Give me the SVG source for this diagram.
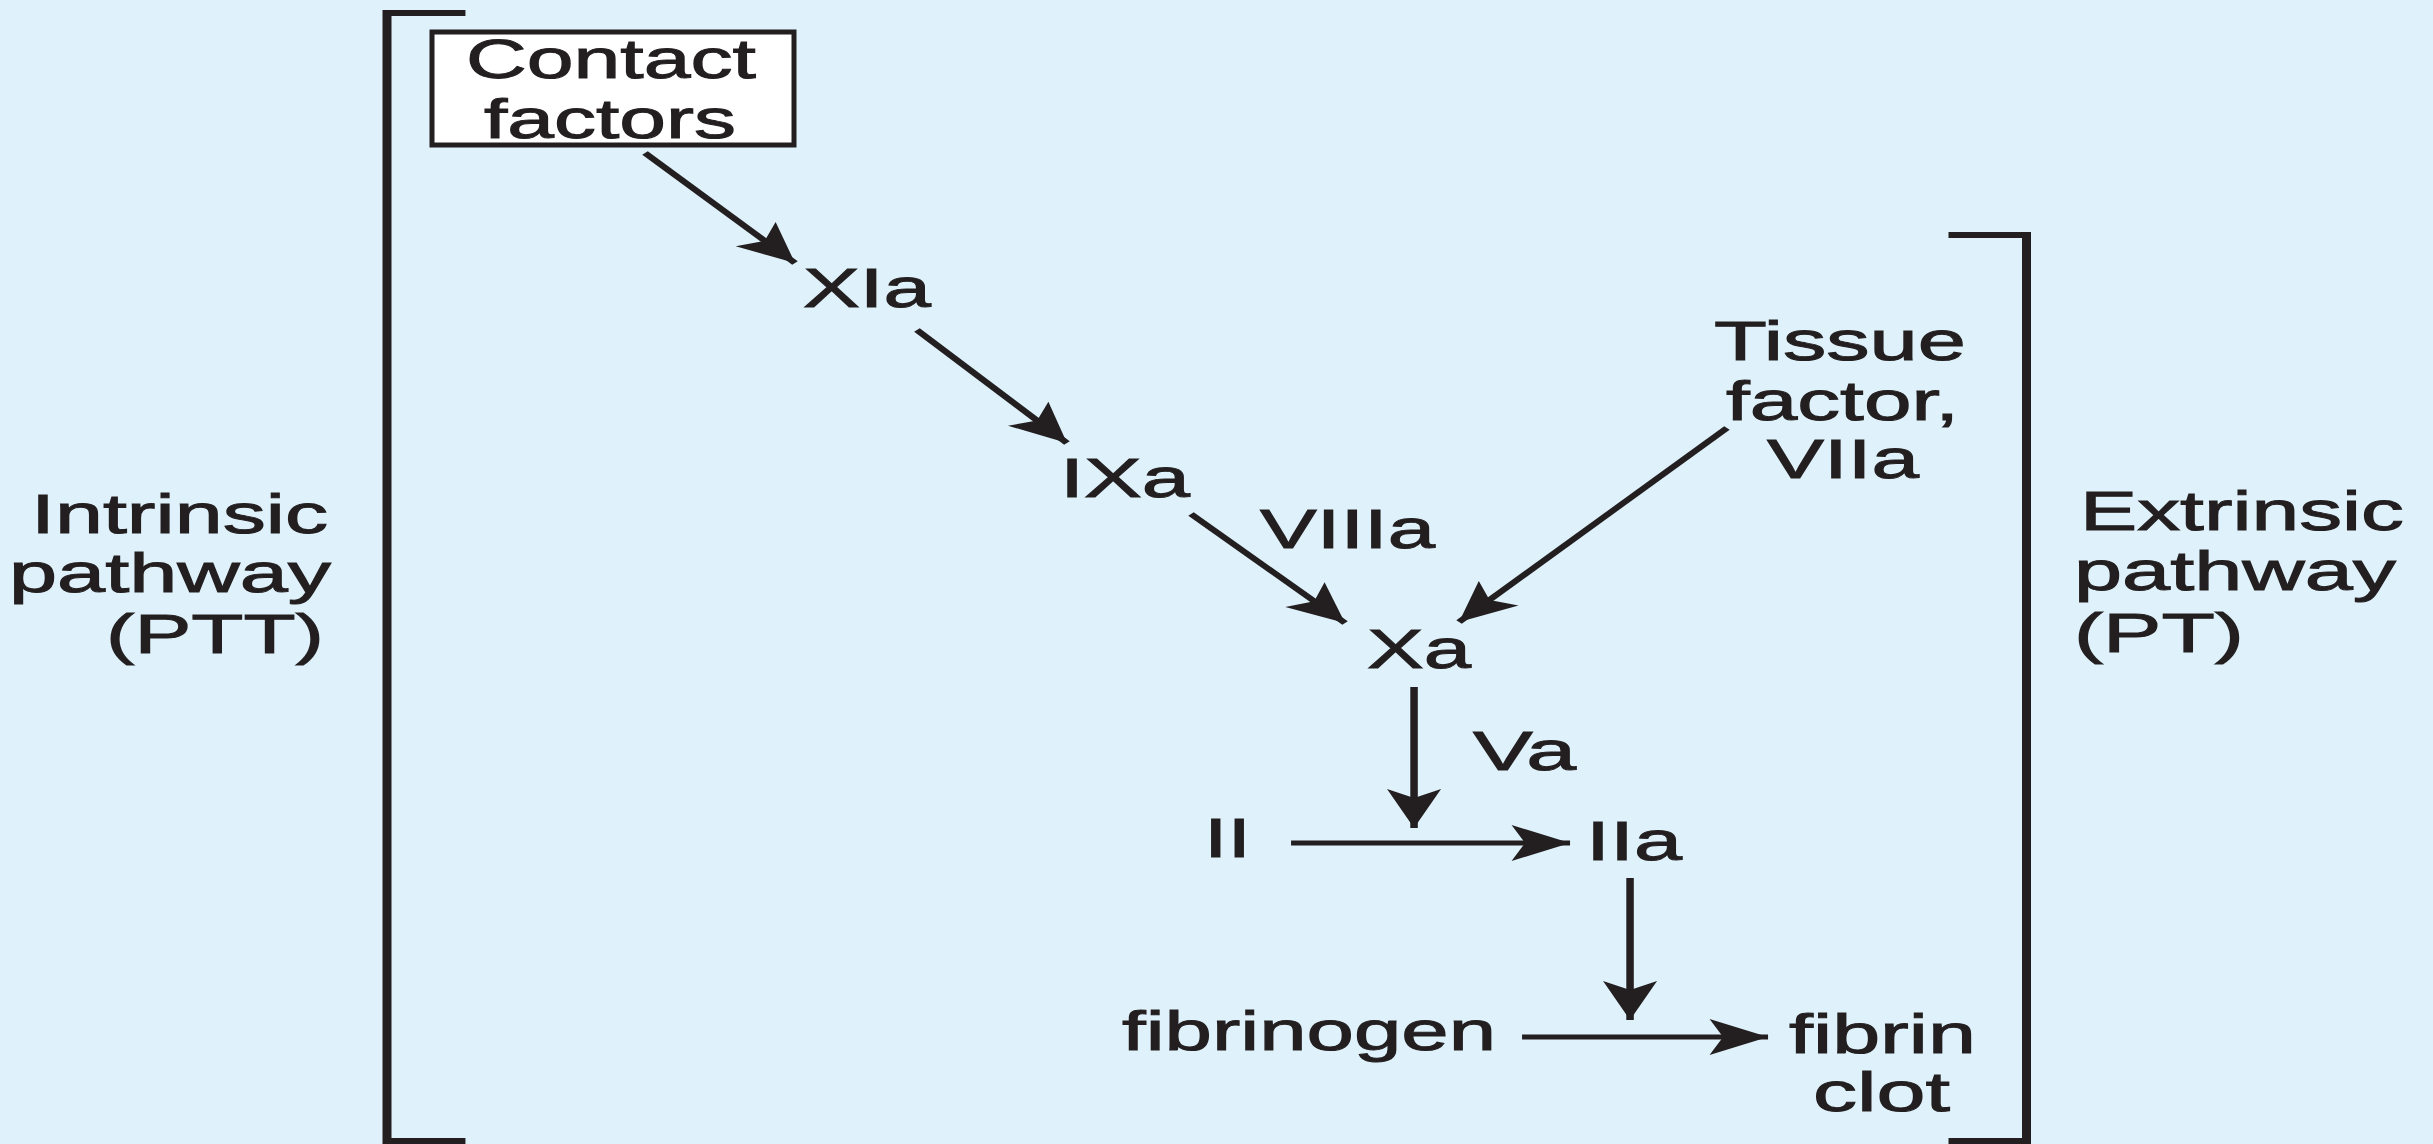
<svg xmlns="http://www.w3.org/2000/svg" width="2433" height="1144" viewBox="0 0 2433 1144">
<style>
.t{font-family:"Liberation Sans",Arial,Helvetica,sans-serif;font-size:56px;fill:#231f20;stroke:#231f20;stroke-width:1;}
.ln{stroke:#231f20;stroke-width:5;fill:none;}
.br{stroke:#231f20;stroke-width:6;fill:none;stroke-linejoin:miter;stroke-linecap:square;}
</style>
<defs>
<marker id="ah" markerUnits="userSpaceOnUse" orient="auto" markerWidth="80" markerHeight="80" refX="0" refY="0" overflow="visible">
<path d="M0,0 L-39,-18 L-30,0 L-39,18 Z" fill="#231f20"/>
</marker>
</defs>
<rect x="0" y="0" width="2433" height="1144" fill="#dff1fa"/>

<g id="brackets" transform="scale(1.5,1)">
<path class="br" d="M307.3,13 H258 V1141 H307.3"/>
<path class="br" d="M1302,235 H1351 V1141 H1302"/>
</g>

<g id="node-contact">
<rect x="432" y="32" width="362" height="113" fill="#ffffff" stroke="#231f20" stroke-width="5"/>
<text class="t" x="466" y="78" textLength="290" lengthAdjust="spacingAndGlyphs">Contact</text>
<text class="t" x="484" y="138" textLength="252" lengthAdjust="spacingAndGlyphs">factors</text>
</g>
<g id="node-XIa"><text class="t" x="803" y="307" textLength="128" lengthAdjust="spacingAndGlyphs">XIa</text></g>
<g id="node-IXa"><text class="t" x="1060" y="497" textLength="130" lengthAdjust="spacingAndGlyphs">IXa</text></g>
<g id="label-VIIIa"><text class="t" x="1260" y="548" textLength="175" lengthAdjust="spacingAndGlyphs">VIIIa</text></g>
<g id="node-tissue">
<text class="t" x="1714" y="360" textLength="252" lengthAdjust="spacingAndGlyphs">Tissue</text>
<text class="t" x="1726" y="420" textLength="233" lengthAdjust="spacingAndGlyphs">factor,</text>
<text class="t" x="1767" y="478" textLength="152" lengthAdjust="spacingAndGlyphs">VIIa</text>
</g>
<g id="node-Xa"><text class="t" x="1367" y="668" textLength="104" lengthAdjust="spacingAndGlyphs">Xa</text></g>
<g id="label-Va"><text class="t" x="1473" y="770" textLength="103" lengthAdjust="spacingAndGlyphs">Va</text></g>
<g id="node-II"><text class="t" x="1204" y="857" textLength="47" lengthAdjust="spacingAndGlyphs">II</text></g>
<g id="node-IIa"><text class="t" x="1586" y="860" textLength="96" lengthAdjust="spacingAndGlyphs">IIa</text></g>
<g id="node-fibrinogen"><text class="t" x="1122" y="1050" textLength="374" lengthAdjust="spacingAndGlyphs">fibrinogen</text></g>
<g id="node-fibrin">
<text class="t" x="1789" y="1053" textLength="187" lengthAdjust="spacingAndGlyphs">fibrin</text>
<text class="t" x="1813" y="1111" textLength="137" lengthAdjust="spacingAndGlyphs">clot</text>
</g>
<g id="label-intrinsic">
<text class="t" x="31" y="533" textLength="297" lengthAdjust="spacingAndGlyphs">Intrinsic</text>
<text class="t" x="9" y="592" textLength="322" lengthAdjust="spacingAndGlyphs">pathway</text>
<text class="t" x="106" y="653" textLength="218" lengthAdjust="spacingAndGlyphs">(PTT)</text>
</g>
<g id="label-extrinsic">
<text class="t" x="2080" y="530" textLength="324" lengthAdjust="spacingAndGlyphs">Extrinsic</text>
<text class="t" x="2074" y="590" textLength="322" lengthAdjust="spacingAndGlyphs">pathway</text>
<text class="t" x="2074" y="652" textLength="170" lengthAdjust="spacingAndGlyphs">(PT)</text>
</g>

<g id="connectors" transform="scale(1.5,1)">
<path class="ln" d="M430,153 L530,263" marker-end="url(#ah)"/>
<path class="ln" d="M611.3,330 L711.3,443" marker-end="url(#ah)"/>
<path class="ln" d="M794,514 L896.7,623" marker-end="url(#ah)"/>
<path class="ln" d="M1151.3,428 L972.7,622" marker-end="url(#ah)"/>
<path class="ln" d="M942.7,687 L942.7,828" marker-end="url(#ah)"/>
<path class="ln" d="M860.7,843 L1046.7,843" marker-end="url(#ah)"/>
<path class="ln" d="M1086.7,878 L1086.7,1020" marker-end="url(#ah)"/>
<path class="ln" d="M1014.7,1037 L1178.7,1037" marker-end="url(#ah)"/>
</g>
</svg>
